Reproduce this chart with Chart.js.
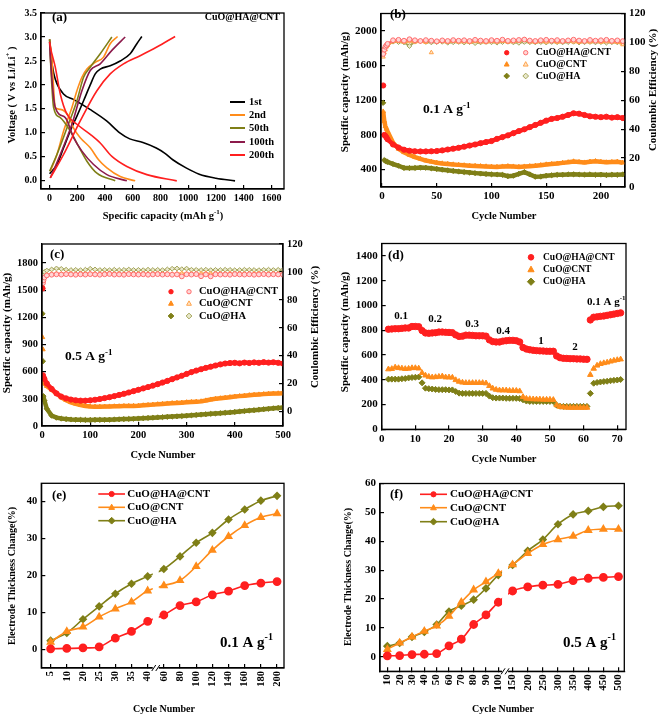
<!DOCTYPE html>
<html>
<head>
<meta charset="utf-8">
<title>CuO@HA@CNT</title>
<script src="https://cdn.jsdelivr.net/npm/chart.js@4.4.1/dist/chart.umd.min.js"></script>
<style>
  body { margin: 0; background: #fff; }
  #fig { position: relative; width: 661px; height: 719px; overflow: hidden; background: #fff; }
  #fig canvas { position: absolute; }
</style>
</head>
<body>
<div id="fig">
  <canvas id="pa" width="330" height="230" style="left:0;top:0"></canvas>
  <canvas id="pb" width="331" height="230" style="left:330px;top:0"></canvas>
  <canvas id="pc" width="330" height="240" style="left:0;top:230px"></canvas>
  <canvas id="pd" width="331" height="240" style="left:330px;top:230px"></canvas>
  <canvas id="pe" width="330" height="249" style="left:0;top:470px"></canvas>
  <canvas id="pf" width="331" height="249" style="left:330px;top:470px"></canvas>
</div>
<script>
// ---------- (a) charge / discharge profiles of CuO@HA@CNT
const profileNames = ['1st', '2nd', '50th', '100th', '200th'];
const dis1Cap = [0, 20, 41, 100, 172, 291, 411, 506, 578, 673, 769, 829, 888, 984, 1079, 1199, 1337];
const dis1V = [2.95, 2.4, 2.12, 1.81, 1.70, 1.49, 1.25, 1.0, 0.875, 0.80, 0.686, 0.58, 0.44, 0.27, 0.14, 0.056, 0.0];
const chg1Cap = [0, 53, 101, 149, 197, 245, 293, 329, 365, 437, 509, 581, 629, 665];
const chg1V = [0.15, 0.34, 0.69, 1.04, 1.35, 1.67, 2.0, 2.23, 2.33, 2.4, 2.5, 2.65, 2.86, 3.01];
const dis2Cap = [0, 17, 41, 77, 137, 173, 221, 293, 353, 413, 509, 617];
const dis2V = [2.95, 2.5, 1.53, 1.49, 1.35, 1.1, 0.9, 0.69, 0.44, 0.27, 0.09, 0.0];
const chg2Cap = [5, 53, 101, 161, 197, 233, 269, 329, 389, 437, 490];
const chg2V = [0.2, 0.55, 1.04, 1.53, 1.88, 2.16, 2.33, 2.47, 2.58, 2.86, 3.01];
const dis50Cap = [0, 5, 29, 77, 149, 209, 269, 341, 473];
const dis50V = [2.95, 2.6, 1.53, 1.32, 1.04, 0.72, 0.41, 0.16, 0.0];
const chg50Cap = [0, 53, 125, 197, 245, 293, 365, 449];
const chg50V = [0.2, 0.55, 1.1, 1.67, 2.16, 2.37, 2.65, 3.0];
const dis100Cap = [0, 5, 41, 113, 173, 233, 317, 413, 557];
const dis100V = [2.9, 2.6, 1.53, 1.32, 0.9, 0.62, 0.34, 0.13, 0.0];
const chg100Cap = [5, 77, 161, 233, 293, 365, 449, 545];
const chg100V = [0.06, 0.55, 1.18, 1.88, 2.3, 2.44, 2.72, 3.0];
const dis200Cap = [0, 5, 41, 77, 125, 197, 293, 365, 449, 557, 701, 917];
const dis200V = [2.9, 2.8, 2.37, 1.81, 1.39, 1.18, 0.97, 0.79, 0.51, 0.3, 0.13, 0.0];
const chg200Cap = [5, 101, 221, 341, 437, 533, 653, 773, 905];
const chg200V = [0.06, 0.55, 1.25, 1.88, 2.23, 2.44, 2.61, 2.79, 3.01];
const capTicksA = [0, 200, 400, 600, 800, 1000, 1200, 1400, 1600];
const voltTicksA = [0, 0.5, 1.0, 1.5, 2.0, 2.5, 3.0, 3.5];

// ---------- (b) cycling at 0.1 A/g
const sampleNames = ['CuO@HA@CNT', 'CuO@CNT', 'CuO@HA'];
const cyclesB = [1, 2, 3, 4, 5, 10, 15, 20, 25, 30, 35, 40, 45, 50, 55, 60, 65, 70, 75, 80, 85, 90, 95, 100,
  105, 110, 115, 120, 125, 130, 135, 140, 145, 150, 155, 160, 165, 170, 175, 180, 185, 190, 195, 200, 205, 210, 215, 220];
const capRedB = [1370, 800, 790, 770, 750, 690, 655, 630, 618, 612, 610, 610, 612, 615, 622, 632, 642, 652, 665, 678,
  690, 705, 718, 730, 755, 775, 795, 820, 845, 865, 890, 915, 940, 965, 985, 995, 1010, 1030, 1050, 1045, 1030, 1015,
  1010, 1005, 1010, 1000, 1005, 995];
const capOrangeB = [1070, 960, 900, 870, 840, 710, 640, 600, 570, 545, 525, 505, 492, 480, 472, 466, 460, 455, 450, 446,
  443, 440, 437, 434, 432, 436, 440, 436, 432, 436, 440, 445, 452, 460, 465, 470, 478, 485, 495, 488, 482, 492,
  498, 490, 484, 488, 492, 480];
const capOliveB = [1170, 510, 500, 495, 490, 465, 445, 420, 418, 420, 424, 422, 415, 408, 400, 392, 385, 378, 372, 366,
  360, 355, 350, 346, 344, 340, 325, 330, 352, 372, 345, 318, 320, 330, 335, 340, 342, 345, 346, 344, 342, 345,
  340, 343, 338, 342, 340, 345];
const ceRedB = [92, 95, 97, 98, 99, 101.5, 101.8, 101.2, 102.2, 101.5, 101.0, 101.6, 101.2, 100.8, 101.4, 101.0, 101.6,
  101.2, 101.5, 101.0, 101.8, 101.3, 101.0, 101.6, 101.2, 101.9, 101.1, 101.4, 101.7, 102.0, 101.3, 101.0, 101.5,
  101.8, 101.2, 101.6, 101.0, 101.4, 101.9, 101.3, 101.0, 101.7, 101.2, 101.5, 101.8, 101.1, 101.4, 100.9];
const ceOrangeB = [90, 93, 95, 97, 98, 100.5, 100.8, 100.2, 100.6, 100.3, 100.7, 100.1, 93.0, 100.4, 100.6, 100.2, 100.8,
  100.3, 100.5, 100.1, 100.7, 100.4, 100.0, 100.6, 100.3, 100.8, 100.2, 100.5, 100.9, 101.8, 100.4, 100.1, 100.6,
  100.3, 100.7, 100.2, 100.5, 100.8, 100.4, 100.1, 100.6, 100.3, 100.7, 100.2, 100.5, 100.3, 100.1, 98.5];
const ceOliveB = [95, 96, 97.5, 98, 98.5, 100.5, 100.2, 100.0, 97.5, 100.5, 100.8, 100.3, 100.0, 100.2, 100.4, 99.8,
  100.1, 100.3, 99.9, 100.2, 99.5, 100.0, 100.3, 100.1, 99.8, 100.2, 100.4, 100.0, 99.7, 100.3, 100.1, 100.0, 100.2,
  99.9, 100.3, 100.1, 100.0, 100.2, 100.4, 99.9, 100.1, 100.3, 100.0, 100.2, 99.8, 100.1, 100.0, 99.6];
const cycleTicksB = [0, 50, 100, 150, 200];
const capTicksB = [400, 800, 1200, 1600, 2000];
const ceTicks = [0, 20, 40, 60, 80, 100, 120];

// ---------- (c) cycling at 0.5 A/g
const cyclesC = [1, 2, 3, 5, 10, 20, 30, 40, 50, 60, 70, 80, 90, 100, 110, 120, 130, 140, 150, 160, 170, 180, 190, 200,
  210, 220, 230, 240, 250, 260, 270, 280, 290, 300, 310, 320, 330, 340, 350, 360, 370, 380, 390, 400, 410, 420, 430,
  440, 450, 460, 470, 480, 490, 500];
const capRedC = [1520, 560, 540, 520, 470, 410, 360, 325, 305, 292, 284, 280, 280, 284, 290, 298, 308, 318, 330, 343,
  356, 370, 385, 400, 415, 430, 446, 462, 480, 498, 517, 536, 555, 575, 595, 612, 627, 642, 655, 668, 680, 690, 695,
  698, 692, 700, 696, 702, 698, 705, 700, 704, 698, 690];
const capOrangeC = [980, 845, 490, 470, 440, 400, 360, 315, 285, 262, 245, 232, 222, 216, 213, 213, 214, 215, 217, 218,
  220, 221, 222, 224, 228, 232, 236, 240, 244, 248, 252, 255, 258, 262, 265, 268, 272, 282, 292, 300, 306, 312, 318,
  325, 330, 335, 340, 344, 348, 352, 355, 358, 360, 362];
const capOliveC = [1240, 715, 330, 280, 190, 115, 92, 82, 76, 72, 70, 68, 67, 67, 68, 68, 69, 70, 72, 74, 76, 78, 80, 83,
  86, 89, 92, 95, 98, 101, 104, 107, 110, 114, 118, 122, 126, 130, 134, 138, 142, 146, 150, 155, 160, 165, 170, 175,
  180, 185, 190, 195, 200, 205];
const ceRedC = [88, 92, 94, 96, 97.5, 98.0, 98.3, 98.1, 98.4, 98.2, 98.0, 98.3, 98.1, 98.4, 98.2, 98.0, 98.3, 98.5, 98.1,
  98.2, 98.0, 98.4, 98.2, 98.1, 98.3, 98.0, 98.2, 98.4, 98.1, 98.3, 98.0, 98.2, 96.8, 98.3, 98.1, 98.4, 96.9, 98.2,
  96.8, 98.3, 98.1, 98.2, 98.0, 98.4, 98.2, 98.1, 98.3, 98.0, 98.2, 98.4, 98.1, 98.3, 98.2, 98.0];
const ceOrangeC = [90, 93, 95, 96.5, 98, 98.6, 98.9, 98.7, 99.1, 98.8, 98.5, 98.9, 98.8, 99.0, 98.7, 98.6, 98.9, 99.1,
  98.7, 98.8, 98.6, 99.0, 98.8, 98.7, 98.9, 98.6, 98.8, 99.0, 98.7, 98.9, 98.5, 98.8, 99.0, 98.7, 98.9, 98.6, 98.8,
  99.1, 98.7, 98.9, 98.8, 98.6, 99.0, 98.7, 98.9, 98.8, 98.6, 98.9, 99.0, 98.7, 98.8, 98.9, 98.6, 98.8];
const ceOliveC = [93, 96, 98, 100, 101, 101.8, 102.5, 102.2, 101.6, 101.4, 101.5, 101.3, 101.6, 102.3, 101.8, 101.4,
  101.5, 101.3, 101.6, 101.4, 101.5, 101.7, 101.4, 101.5, 101.3, 101.6, 101.4, 101.5, 101.3, 101.8, 102.3, 102.5,
  102.0, 102.4, 101.6, 101.5, 101.4, 101.6, 101.3, 101.5, 101.4, 101.6, 101.5, 101.3, 101.4, 101.6, 101.5, 101.4,
  101.3, 101.5, 101.6, 101.4, 101.5, 101.5];
const cycleTicksC = [0, 100, 200, 300, 400, 500];
const capTicksC = [0, 300, 600, 900, 1200, 1500, 1800];

// ---------- (d) rate capability
const cyclesD = Array.from({ length: 70 }, (_, i) => i + 2);
const rateRedD = [808, 810, 812, 812, 815, 818, 818, 830, 830, 828,
  797, 778, 775, 778, 780, 785, 785, 783, 782, 780,
  762, 750, 752, 760, 760, 758, 755, 755, 755, 752,
  722, 708, 705, 705, 712, 715, 718, 718, 715, 705,
  660, 648, 642, 638, 635, 633, 632, 630, 630, 630,
  592, 578, 573, 572, 570, 570, 568, 568, 566, 565,
  883, 905, 908, 912, 915, 920, 925, 930, 935, 940];
const rateOrangeD = [485, 488, 500, 495, 492, 488, 490, 495, 495, 492,
  455, 435, 425, 420, 422, 425, 428, 420, 420, 418,
  398, 385, 378, 375, 375, 375, 375, 375, 375, 372,
  350, 330, 320, 315, 315, 315, 312, 312, 312, 308,
  262, 248, 245, 243, 242, 242, 240, 240, 240, 238,
  195, 182, 178, 176, 175, 175, 175, 175, 175, 175,
  440, 490, 515, 528, 535, 540, 548, 555, 560, 565];
const rateOliveD = [405, 405, 405, 405, 408, 410, 415, 418, 420, 422,
  375, 332, 328, 325, 322, 320, 320, 320, 318, 318,
  305, 292, 290, 290, 290, 290, 290, 290, 290, 290,
  268, 255, 252, 252, 252, 250, 250, 250, 250, 248,
  238, 228, 225, 225, 225, 225, 225, 225, 225, 225,
  195, 186, 185, 185, 185, 185, 185, 185, 185, 185,
  290, 372, 378, 382, 385, 388, 392, 395, 398, 402];
const rateLabelsD = ['0.1', '0.2', '0.3', '0.4', '1', '2'];
const cycleTicksD = [0, 10, 20, 30, 40, 50, 60, 70];
const capTicksD = [0, 200, 400, 600, 800, 1000, 1200, 1400];

// ---------- (e) electrode thickness change, 0.1 A/g
const cyclesE = [5, 10, 20, 25, 30, 35, 40, 60, 80, 100, 120, 140, 160, 180, 200];
const thickRedE = [0.2, 0.3, 0.45, 0.7, 3.1, 4.9, 7.6, 9.35, 11.9, 12.9, 14.8, 15.8, 17.3, 18.0, 18.4];
const thickOrangeE = [2.0, 4.9, 6.1, 8.8, 11.0, 12.9, 15.9, 17.3, 18.7, 22.5, 26.9, 30.6, 33.6, 35.8, 36.8];
const thickOliveE = [2.4, 4.5, 8.2, 11.7, 15.1, 17.8, 19.8, 21.8, 25.2, 28.9, 31.6, 35.2, 37.9, 40.3, 41.6];
const thickTicksE = [0, 10, 20, 30, 40];

// ---------- (f) electrode thickness change, 0.5 A/g
const cyclesF = [10, 20, 30, 40, 50, 60, 70, 80, 90, 100, 150, 200, 250, 300, 350, 400, 450, 500];
const thickRedF = [0.35, 0.45, 0.8, 0.9, 1.15, 3.8, 6.1, 11.2, 14.5, 18.9, 22.8, 24.2, 24.8, 25.1, 26.4, 27.2, 27.5, 27.8];
const thickOrangeF = [2.6, 4.8, 6.9, 8.9, 10.7, 14.1, 18.9, 23.2, 26.0, 28.9, 31.9, 35.8, 38.9, 40.6, 41.8, 43.8, 44.2, 44.2];
const thickOliveF = [3.7, 4.8, 6.9, 8.6, 11.2, 15.7, 17.7, 19.8, 23.7, 28.3, 31.8, 36.7, 40.6, 45.9, 49.3, 50.5, 51.9, 52.3];
const thickTicksF = [0, 10, 20, 30, 40, 50, 60];

// ---------- styling
const SERIF = "'Liberation Serif', 'Times New Roman', serif";
const RED = '#ff1f1f', ORANGE = '#ff8c1a', OLIVE = '#7f7f17', MAROON = '#8c1a4b';
const RED_CE = ['#ff6c6c', '#ffd6d6'], ORANGE_CE = ['#ffa24a', '#ffe6c8'], OLIVE_CE = ['#a4a45a', '#e8e8cc'];

function xy(xs, ys) { return xs.map((x, i) => ({ x: x, y: ys[i] })); }

// axis with inward ticks and fixed thickness, so the plot box lands where it should
function axis(pos, min, max, ticks, fit, size, fmt) {
  const horiz = pos === 'bottom';
  return {
    type: 'linear', position: pos, min: min, max: max,
    afterBuildTicks: s => { s.ticks = ticks.map(v => ({ value: v })); },
    afterFit: s => { if (horiz) s.height = fit; else s.width = fit; },
    border: { color: '#000', width: 1.3 },
    grid: { drawOnChartArea: false, tickLength: -4, color: '#000', lineWidth: 1.2 },
    ticks: {
      color: '#000', padding: 8, autoSkip: false, maxRotation: 0, minRotation: 0,
      font: { family: SERIF, size: size, weight: 'bold', lineHeight: 1 },
      callback: fmt || (v => String(v))
    }
  };
}

function drawText(ctx, t) {
  const w = t.bold === false ? '' : 'bold ';
  const f1 = w + t.size + 'px ' + SERIF;
  const f2 = w + Math.round(t.size * 0.65) + 'px ' + SERIF;
  ctx.font = f1;
  const w1 = ctx.measureText(t.s).width;
  const w3 = t.tail ? ctx.measureText(t.tail).width : 0;
  ctx.font = f2;
  const w2 = t.sup ? ctx.measureText(t.sup).width : 0;
  const total = w1 + w2 + w3;
  const x0 = t.align === 'left' ? 0 : t.align === 'right' ? -total : -total / 2;
  ctx.save();
  ctx.translate(t.x, t.y);
  if (t.rot) ctx.rotate(t.rot);
  ctx.fillStyle = '#000';
  ctx.textBaseline = 'middle';
  ctx.textAlign = 'left';
  ctx.font = f1;
  ctx.fillText(t.s, x0, 0);
  if (t.sup) { ctx.font = f2; ctx.fillText(t.sup, x0 + w1, -t.size * 0.35); }
  if (t.tail) { ctx.font = f1; ctx.fillText(t.tail, x0 + w1 + w2, 0); }
  ctx.restore();
}

function drawMark(ctx, m, y) {
  const r = m.r, x = m.x;
  ctx.beginPath();
  if (m.style === 'circle') ctx.arc(x, y, r, 0, 2 * Math.PI);
  else if (m.style === 'triangle') {
    ctx.moveTo(x, y - r * 1.2); ctx.lineTo(x + r * 1.1, y + r * 0.8); ctx.lineTo(x - r * 1.1, y + r * 0.8); ctx.closePath();
  } else {
    ctx.moveTo(x, y - r * 1.3); ctx.lineTo(x + r * 1.3, y); ctx.lineTo(x, y + r * 1.3); ctx.lineTo(x - r * 1.3, y); ctx.closePath();
  }
  ctx.fillStyle = m.fill; ctx.fill();
  ctx.lineWidth = 1; ctx.strokeStyle = m.color; ctx.stroke();
}

// frame, axis break, legends and texts
const decoPlugin = {
  id: 'deco',
  afterDraw(chart, args, o) {
    const ctx = chart.ctx, a = chart.chartArea;
    ctx.save();
    ctx.strokeStyle = '#000';
    ctx.lineWidth = 1.3;
    ctx.strokeRect(a.left, a.top, a.right - a.left, a.bottom - a.top);
    if (o.brk !== undefined) {
      const bx = chart.scales.x.getPixelForValue(o.brk);
      ctx.fillStyle = '#fff';
      ctx.fillRect(bx - 3, a.top + o.brkFrom, 6, a.bottom - a.top - o.brkFrom + 2);
      ctx.lineWidth = 1;
      [-2, 2].forEach(d => {
        ctx.beginPath(); ctx.moveTo(bx + d - 2, a.bottom + 3); ctx.lineTo(bx + d + 2, a.bottom - 3); ctx.stroke();
      });
    }
    (o.legend || []).forEach(it => {
      if (it.line) {
        ctx.strokeStyle = it.line[2]; ctx.lineWidth = it.line[3];
        ctx.beginPath(); ctx.moveTo(it.line[0], it.y); ctx.lineTo(it.line[1], it.y); ctx.stroke();
      }
      (it.marks || []).forEach(m => drawMark(ctx, m, it.y));
      drawText(ctx, { s: it.text, x: it.tx, y: it.y, size: it.size, bold: it.bold, align: 'left' });
    });
    (o.texts || []).forEach(t => drawText(ctx, t));
    ctx.restore();
  }
};

function panel(id, datasets, scales, pad, deco) {
  return new Chart(document.getElementById(id), {
    type: 'line',
    data: { datasets: datasets },
    options: {
      responsive: false, animation: false,
      layout: { padding: pad },
      scales: scales,
      plugins: { legend: { display: false }, tooltip: { enabled: false }, deco: deco }
    },
    plugins: [decoPlugin]
  });
}

function curve(xs, ys, color) {
  return { data: xy(xs, ys), borderColor: color, borderWidth: 1.6, pointRadius: 0, cubicInterpolationMode: 'monotone' };
}

function capBand(xs, ys, color, style, skip) {
  return {
    data: xy(xs, ys), borderColor: color, backgroundColor: color, borderWidth: 4.5,
    pointStyle: style, pointRadius: 2.6, pointBorderWidth: 1, pointBackgroundColor: color, pointBorderColor: color,
    segment: { borderColor: c => (c.p0DataIndex < skip ? 'rgba(0,0,0,0)' : undefined) },
    yAxisID: 'y'
  };
}

// CE points; points listed in "alone" are not joined to their neighbours
function ceBand(xs, ys, cols, style, alone) {
  const lone = alone || [];
  return {
    data: xy(xs, ys), borderColor: cols[0], borderWidth: 2, pointStyle: style, pointRadius: 2.4,
    pointBorderWidth: 1, pointBackgroundColor: cols[1], pointBorderColor: cols[0], yAxisID: 'y2',
    segment: {
      borderColor: c => (lone.includes(c.p0DataIndex) || lone.includes(c.p1DataIndex) ? 'rgba(0,0,0,0)' : undefined)
    }
  };
}

function marks(xs, ys, color, style) {
  return {
    data: xy(xs, ys), showLine: false, pointStyle: style, pointRadius: style === 'rectRot' ? 3 : 3.2,
    pointBackgroundColor: color, pointBorderColor: color, borderColor: color
  };
}

function thick(xs, ys, color, style) {
  return {
    data: xy(xs, ys), borderColor: color, borderWidth: 1.6, tension: 0.35, pointStyle: style,
    pointRadius: style === 'rectRot' ? 3.2 : 3.6, pointBackgroundColor: color, pointBorderColor: color
  };
}

function bandLegend(rows, markX, openX, tx, size, open) {
  const styles = [['circle', RED, RED_CE], ['triangle', ORANGE, ORANGE_CE], ['rectRot', OLIVE, OLIVE_CE]];
  return rows.map((y, i) => {
    const st = styles[i];
    const r = open ? 2.2 : 2.8;
    const mk = [{ x: markX, style: st[0], color: st[1], fill: st[1], r: r }];
    if (open) mk.push({ x: openX, style: st[0], color: st[2][0], fill: st[2][1], r: r });
    return { y: y, text: sampleNames[i], tx: tx, size: size, bold: true, marks: mk };
  });
}

function lineLegend(rows, x1, x2, tx, size) {
  const styles = [['circle', RED], ['triangle', ORANGE], ['rectRot', OLIVE]];
  return rows.map((y, i) => ({
    y: y, text: sampleNames[i], tx: tx, size: size, bold: true, line: [x1, x2, styles[i][1], 1.6],
    marks: [{ x: (x1 + x2) / 2, style: styles[i][0], color: styles[i][1], fill: styles[i][1], r: 2.6 }]
  }));
}

const UP = -Math.PI / 2;

// ---------- (a)
const colorsA = ['#000000', ORANGE, OLIVE, MAROON, RED];
panel('pa', [
  curve(dis200Cap, dis200V, RED), curve(chg200Cap, chg200V, RED),
  curve(dis100Cap, dis100V, MAROON), curve(chg100Cap, chg100V, MAROON),
  curve(dis50Cap, dis50V, OLIVE), curve(chg50Cap, chg50V, OLIVE),
  curve(dis2Cap, dis2V, ORANGE), curve(chg2Cap, chg2V, ORANGE),
  curve(dis1Cap, dis1V, '#000'), curve(chg1Cap, chg1V, '#000')
], {
  x: axis('bottom', -62, 1690, capTicksA, 41, 10),
  y: axis('left', -0.17, 3.5, voltTicksA, 41, 10, v => v.toFixed(1))
}, { top: 6, right: 46, left: 0, bottom: 0 }, {
  legend: profileNames.map((n, i) => ({
    y: [102, 115, 128, 142, 155][i], text: n, tx: 249, size: 10.5, bold: true, line: [230, 245, colorsA[i], 2]
  })),
  texts: [
    { s: '(a)', x: 52, y: 18, size: 13, align: 'left' },
    { s: 'CuO@HA@CNT', x: 280, y: 17, size: 10, align: 'right' },
    { s: 'Specific capacity (mAh g', sup: '-1', tail: ')', x: 163, y: 216, size: 10.5 },
    { s: 'Voltage ( V vs Li/Li', sup: '+', tail: ' )', x: 12, y: 95, size: 10.5, rot: UP }
  ]
});

// ---------- (b)
panel('pb', [
  capBand(cyclesB, capRedB, RED, 'circle', 1),
  capBand(cyclesB, capOrangeB, ORANGE, 'triangle', 0),
  capBand(cyclesB, capOliveB, OLIVE, 'rectRot', 1),
  ceBand(cyclesB, ceRedB, RED_CE, 'circle'),
  ceBand(cyclesB, ceOrangeB, ORANGE_CE, 'triangle', [12]),
  ceBand(cyclesB, ceOliveB, OLIVE_CE, 'rectRot')
], {
  x: axis('bottom', -1, 222, cycleTicksB, 43, 11),
  y: axis('left', 200, 2200, capTicksB, 51, 11),
  y2: axis('right', 0, 120, ceTicks, 36, 11)
}, { top: 5, right: 0, left: 0, bottom: 0 }, {
  legend: bandLegend([52.7, 64.3, 76], 176.7, 195.7, 205.7, 10, true),
  texts: [
    { s: '(b)', x: 60, y: 15, size: 13, align: 'left' },
    { s: '0.1 A g', sup: '-1', x: 93, y: 110, size: 13.5, align: 'left' },
    { s: 'Cycle Number', x: 174, y: 216, size: 10.5 },
    { s: 'Specific capacity (mAh/g)', x: 15, y: 92, size: 11, rot: UP },
    { s: 'Coulombic Efficiency (%)', x: 323, y: 90, size: 11, rot: UP }
  ]
});

// ---------- (c)
panel('pc', [
  capBand(cyclesC, capRedC, RED, 'circle', 1),
  capBand(cyclesC, capOrangeC, ORANGE, 'triangle', 2),
  capBand(cyclesC, capOliveC, OLIVE, 'rectRot', 2),
  ceBand(cyclesC, ceRedC, RED_CE, 'circle'),
  ceBand(cyclesC, ceOrangeC, ORANGE_CE, 'triangle'),
  ceBand(cyclesC, ceOliveC, OLIVE_CE, 'rectRot')
], {
  x: axis('bottom', 0, 500, cycleTicksC, 44, 10.5),
  y: axis('left', 0, 2010, capTicksC, 42, 10.5),
  y2: axis('right', -10.3, 120, ceTicks, 47, 10.5)
}, { top: 14, right: 0, left: 0, bottom: 0 }, {
  legend: bandLegend([61.7, 73.5, 86], 171, 189, 199, 10.5, true),
  texts: [
    { s: '(c)', x: 50, y: 25, size: 13, align: 'left' },
    { s: '0.5 A g', sup: '-1', x: 65, y: 127, size: 13.5, align: 'left' },
    { s: 'Cycle Number', x: 163, y: 225, size: 10.5 },
    { s: 'Specific capacity (mAh/g)', x: 7, y: 103, size: 11, rot: UP },
    { s: 'Coulombic Efficiency (%)', x: 315, y: 97, size: 11, rot: UP }
  ]
});

// ---------- (d)
const rateLabelPos = [[71, 86], [105, 89], [142, 94], [173, 101], [211, 111], [245, 117]];
panel('pd', [
  marks(cyclesD, rateRedD, RED, 'circle'),
  marks(cyclesD, rateOrangeD, ORANGE, 'triangle'),
  marks(cyclesD, rateOliveD, OLIVE, 'rectRot')
], {
  x: axis('bottom', 0, 72.6, cycleTicksD, 40.7, 11),
  y: axis('left', 0, 1500, capTicksD, 51.7, 11)
}, { top: 13.3, right: 35, left: 0, bottom: 0 }, {
  legend: bandLegend([27.3, 39.5, 51.7], 201, 0, 213, 9.5, false),
  texts: rateLabelsD.map((s, i) => ({ s: s, x: rateLabelPos[i][0], y: rateLabelPos[i][1], size: 11 })).concat([
    { s: '(d)', x: 58, y: 26, size: 13, align: 'left' },
    { s: '0.1 A g', sup: '-1', x: 257, y: 72, size: 11, align: 'left' },
    { s: 'Cycle Number', x: 174, y: 229, size: 10.5 },
    { s: 'Specific capacity (mAh/g)', x: 15, y: 102, size: 11, rot: UP }
  ])
});

// ---------- (e) category positions on a broken axis
const posE = cyclesE.map((c, i) => i);
const xE = axis('bottom', -0.577, 14.43, posE, 51, 10.5, (v, i) => String(cyclesE[i]));
xE.ticks.maxRotation = 90; xE.ticks.minRotation = 90; xE.ticks.padding = 7;
panel('pe', [
  thick(posE, thickRedE, RED, 'circle'),
  thick(posE, thickOrangeE, ORANGE, 'triangle'),
  thick(posE, thickOliveE, OLIVE, 'rectRot')
], {
  x: xE,
  y: axis('left', -5, 45, thickTicksE, 41.3, 10.5)
}, { top: 13.3, right: 46, left: 0, bottom: 0 }, {
  brk: 6.5, brkFrom: 50,
  legend: lineLegend([24, 37.3, 50.7], 98.3, 125, 127.3, 11),
  texts: [
    { s: '(e)', x: 52, y: 26, size: 13, align: 'left' },
    { s: '0.1 A g', sup: '-1', x: 220, y: 173, size: 15, align: 'left' },
    { s: 'Cycle Number', x: 164, y: 239, size: 10 },
    { s: 'Electrode Thickness Change(%)', x: 12, y: 106, size: 10, rot: UP }
  ]
});

// ---------- (f) two segments: 10-100 and 150-500, split by a break
function brokenPosF(c) { return c <= 100 ? c / 10 : 11.16 + (c - 150) / 50 * 1.227; }
const posF = cyclesF.map(brokenPosF);
const xF = axis('bottom', 0.405, 20.22, posF, 47.7, 11, (v, i) => String(cyclesF[i]));
xF.ticks.maxRotation = 90; xF.ticks.minRotation = 90; xF.ticks.padding = 7;
panel('pf', [
  thick(posF, thickRedF, RED, 'circle'),
  thick(posF, thickOrangeF, ORANGE, 'triangle'),
  thick(posF, thickOliveF, OLIVE, 'rectRot')
], {
  x: xF,
  y: axis('left', -5, 60, thickTicksF, 50, 11)
}, { top: 12.3, right: 36.7, left: 0, bottom: 0 }, {
  brk: 10.55, brkFrom: 50,
  legend: lineLegend([24.3, 37.7, 51.7], 90, 117, 120, 11),
  texts: [
    { s: '(f)', x: 60, y: 25, size: 13, align: 'left' },
    { s: '0.5 A g', sup: '-1', x: 233, y: 173, size: 15, align: 'left' },
    { s: 'Cycle Number', x: 173, y: 239, size: 10 },
    { s: 'Electrode Thickness Change(%)', x: 18, y: 107, size: 10, rot: UP }
  ]
});
</script>
</body>
</html>
